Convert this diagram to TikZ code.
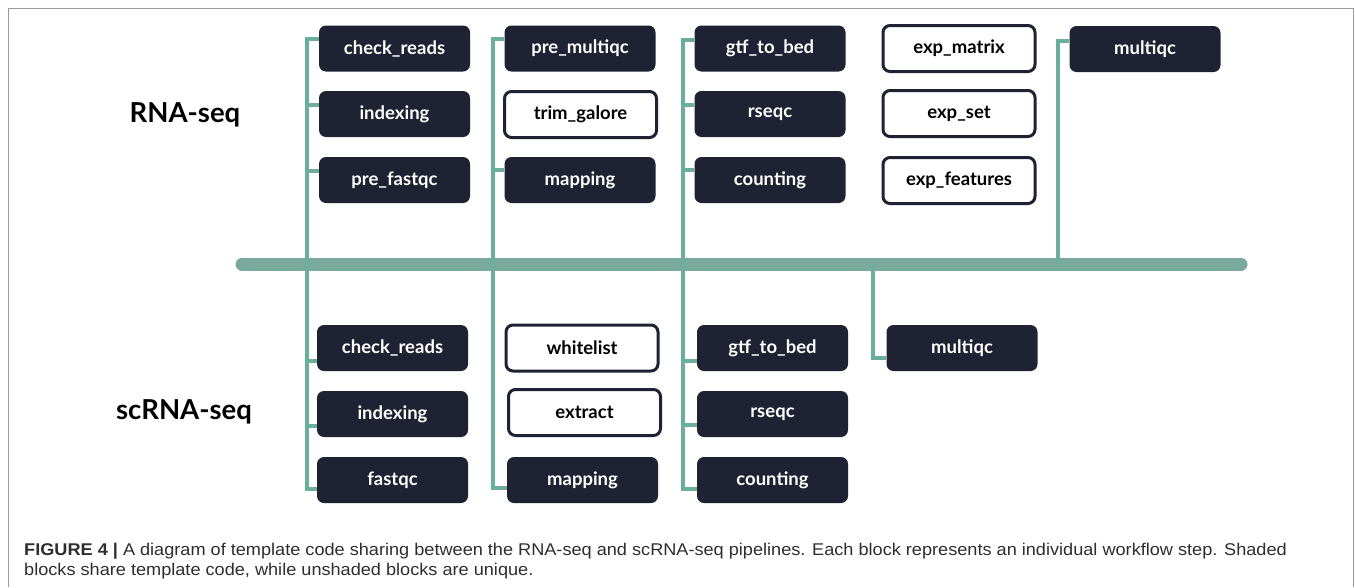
\documentclass[tikz,border=0pt]{standalone}
\usepackage{fontspec}
\setmainfont{Lato}
\newfontfamily\capfont{Liberation Sans}[FakeStretch=1.067]
\usetikzlibrary{calc}
\definecolor{boxdark}{HTML}{1F2232}
\definecolor{linec}{HTML}{6BAE9C}
\definecolor{barc}{HTML}{79AA9B}
\definecolor{framec}{HTML}{9A9A9A}
\tikzset{
  darkbox/.style={rectangle, rounded corners=7pt, fill=boxdark, text=white,
    minimum width=151pt, minimum height=46pt, inner sep=0pt,
    font=\fontsize{18.5}{22}\selectfont\bfseries},
  whitebox/.style={rectangle, rounded corners=7pt, draw=boxdark, line width=3pt, fill=white,
    text=black, minimum width=152pt, minimum height=46pt, inner sep=0pt,
    font=\fontsize{18.5}{22}\selectfont\bfseries},
  conn/.style={draw=linec, line width=4pt},
  mainbar/.style={draw=barc, line width=13pt, line cap=round},
  rowlabel/.style={font=\fontsize{27.5}{32}\selectfont\bfseries, text=black},
  captext/.style={anchor=base west, inner sep=0pt, text=black!82,
    font=\capfont\fontsize{17}{20}\selectfont}
}
\begin{document}
\begin{tikzpicture}[x=1pt,y=-1pt]
\useasboundingbox (0,0) rectangle (1355,587);
% frame
\draw[framec, line width=1pt] (8,587) -- (8,8) -- (1353,8) -- (1353,587);

% row labels
\node[rowlabel] (lrna) at (185,115) {RNA-seq};
\node[rowlabel] (lsc) at (184,412) {scRNA-seq};

% RNA-seq boxes
\node[darkbox] (r11) at (394.5,48.5) {check\_reads};
\node[darkbox] (r12) at (394.5,114) {indexing};
\node[darkbox] (r13) at (394.5,180) {pre\_fastqc};
\node[darkbox] (r21) at (580,48.5) {pre\_multiqc};
\node[whitebox] (r22) at (580.5,114.5) {trim\_galore};
\node[darkbox] (r23) at (580,180) {mapping};
\node[darkbox] (r31) at (770,48.5) {gtf\_to\_bed};
\node[darkbox] (r32) at (770,114) {rseqc};
\node[darkbox] (r33) at (770,180) {counting};
\node[whitebox] (r41) at (959,48.5) {exp\_matrix};
\node[whitebox] (r42) at (959,113.5) {exp\_set};
\node[whitebox] (r43) at (959,180.5) {exp\_features};
\node[darkbox] (r51) at (1145,49) {multiqc};

% scRNA-seq boxes
\node[darkbox] (s11) at (392.5,348) {check\_reads};
\node[darkbox] (s12) at (392.5,414) {indexing};
\node[darkbox] (s13) at (392.5,480) {fastqc};
\node[whitebox] (s21) at (582,348) {whitelist};
\node[whitebox] (s22) at (584.5,412.5) {extract};
\node[darkbox] (s23) at (582.5,480) {mapping};
\node[darkbox] (s31) at (772.5,348) {gtf\_to\_bed};
\node[darkbox] (s32) at (772.5,414) {rseqc};
\node[darkbox] (s33) at (772.5,480) {counting};
\node[darkbox] (s41) at (962,348) {multiqc};

% main bar
\coordinate (barL) at (242,264);
\coordinate (barR) at (1241,264);
\coordinate (j4) at (873,264);
\coordinate (j5) at (1058,264);
\draw[mainbar] (barL) -- (barR);

% column 1
\draw[conn] ([yshift=-14pt]r11.north west) -- ++(-12,0) |- ([yshift=14pt]s13.south west);
\draw[conn] ([yshift=-14pt]r12.north west) -- ++(-14,0);
\draw[conn] ([yshift=-14pt]r13.north west) -- ++(-14,0);
\draw[conn] ([yshift=10pt]s11.south west) -- ++(-12,0);
\draw[conn] ([yshift=11pt]s12.south west) -- ++(-12,0);
% column 2
\draw[conn] ([yshift=-14pt]r21.north west) -- ++(-11,0) |- ([yshift=15pt]s23.south west);
\draw[conn] ([yshift=-13pt]r23.north west) -- ++(-13,0);
% column 3
\draw[conn] ([yshift=-15pt]r31.north west) -- ++(-11,0) |- ([yshift=14pt]s33.south west);
\draw[conn] ([yshift=-14pt]r32.north west) -- ++(-13,0);
\draw[conn] ([yshift=-13pt]r33.north west) -- ++(-13,0);
\draw[conn] ([yshift=10pt]s31.south west) -- ++(-16,0);
\draw[conn] ([yshift=12pt]s32.south west) -- ++(-16,0);
% column 4
\draw[conn] (j4) |- ([yshift=13pt]s41.south west);
% column 5
\draw[conn] ([yshift=-15pt]r51.north west) -| (j5);

% caption
\node[captext] (cap1) at (24,555) {\textbf{FIGURE 4 |} A diagram of template code sharing between the RNA-seq and scRNA-seq pipelines. Each block represents an individual workflow step. Shaded};
\node[captext] (cap2) at (24,575) {blocks share template code, while unshaded blocks are unique.};
\end{tikzpicture}
\end{document}
